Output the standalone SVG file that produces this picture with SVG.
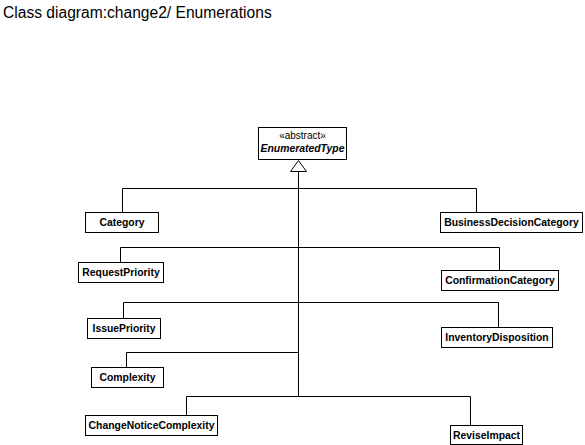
<svg xmlns="http://www.w3.org/2000/svg" width="585" height="445" viewBox="0 0 585 445">
<style>
.box{fill:#fff;stroke:#000;stroke-width:1}
.n{font-family:"Liberation Sans",Arial,sans-serif;font-size:10.4px;font-weight:bold;text-anchor:middle;fill:#000}
.st{font-family:"Liberation Sans",Arial,sans-serif;font-size:10px;text-anchor:middle;fill:#000}
.ln{fill:none;stroke:#000;stroke-width:1}
</style>
<rect width="585" height="445" fill="#fff"/>
<text x="3" y="18" font-family="Liberation Sans, Arial, sans-serif" font-size="15.6" fill="#000">Class diagram:change2/ Enumerations</text>
<g id="connectors">
<path class="ln" d="M298.5 171V396.5"/>
<path class="ln" d="M122.5 212V188.5H476.5V212"/>
<path class="ln" d="M120.5 262V247.5H499.5V270"/>
<path class="ln" d="M123.5 318V302.5H498.5V327"/>
<path class="ln" d="M126.5 367V352.5H298.5"/>
<path class="ln" d="M186.5 415V396.5H470.5V425"/>
<path d="M298.5 160.5L306.5 171.5H290.5Z" fill="#fff" stroke="#000"/>
</g>
<g id="EnumeratedType">
<rect class="box" x="258.5" y="127.5" width="88" height="32"/>
<text class="st" x="302.5" y="139">«abstract»</text>
<text class="n" x="302.5" y="152" font-style="italic">EnumeratedType</text>
</g>
<g id="Category">
<rect class="box" x="85.5" y="212.5" width="73" height="20"/>
<text class="n" x="122" y="226">Category</text>
</g>
<g id="BusinessDecisionCategory">
<rect class="box" x="440.5" y="212.5" width="142" height="20"/>
<text class="n" x="511.5" y="226">BusinessDecisionCategory</text>
</g>
<g id="RequestPriority">
<rect class="box" x="78.5" y="262.5" width="85" height="20"/>
<text class="n" x="121" y="276">RequestPriority</text>
</g>
<g id="ConfirmationCategory">
<rect class="box" x="441.5" y="270.5" width="117" height="20"/>
<text class="n" x="500" y="284">ConfirmationCategory</text>
</g>
<g id="IssuePriority">
<rect class="box" x="87.5" y="318.5" width="73" height="20"/>
<text class="n" x="124" y="332">IssuePriority</text>
</g>
<g id="InventoryDisposition">
<rect class="box" x="441.5" y="327.5" width="111" height="20"/>
<text class="n" x="497" y="341">InventoryDisposition</text>
</g>
<g id="Complexity">
<rect class="box" x="91.5" y="367.5" width="72" height="20"/>
<text class="n" x="127.5" y="381">Complexity</text>
</g>
<g id="ChangeNoticeComplexity">
<rect class="box" x="85.5" y="415.5" width="132" height="20"/>
<text class="n" x="151.5" y="429">ChangeNoticeComplexity</text>
</g>
<g id="ReviseImpact">
<rect class="box" x="450.5" y="425.5" width="72" height="19"/>
<text class="n" x="486.5" y="439">ReviseImpact</text>
</g>
</svg>
